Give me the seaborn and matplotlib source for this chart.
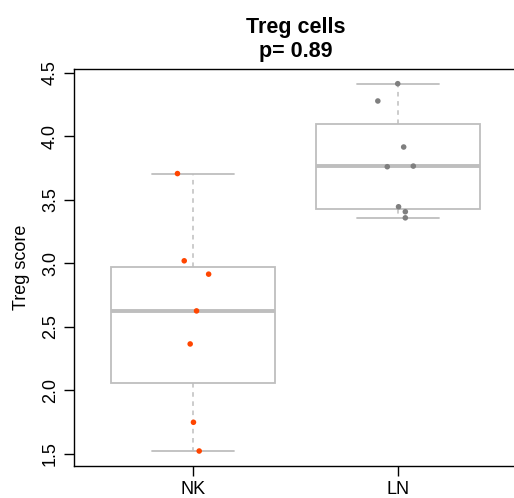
import numpy as np
import pandas as pd
import matplotlib
matplotlib.use("Agg")
import matplotlib.pyplot as plt
import seaborn as sns

# ---- data ----
groups = ["NK", "LN"]
nk_values = [3.706, 3.020, 2.915, 2.626, 2.366, 1.750, 1.524]
ln_values = [4.413, 4.277, 3.915, 3.760, 3.765, 3.445, 3.406, 3.358]
# horizontal jitter of each point (category units)
nk_jitter = [-0.077, -0.044, 0.075, 0.016, -0.015, 0.001, 0.029]
ln_jitter = [-0.003, -0.100, 0.026, -0.054, 0.073, 0.001, 0.034, 0.034]
y_ticks = [1.5, 2.0, 2.5, 3.0, 3.5, 4.0, 4.5]
title_text = "Treg cells\np= 0.89"
y_label = "Treg score"

point_colors = {"NK": "#FF4500", "LN": "#7F7F7F"}
box_color = "#BEBEBE"

sns.set_theme(style="white")
plt.rcParams["font.family"] = ["Liberation Sans", "DejaVu Sans"]
plt.rcParams.update({"text.color": "black", "axes.labelcolor": "black",
                     "xtick.color": "black", "ytick.color": "black"})


def tukey_stats(vals, label):
    x = np.sort(np.asarray(vals, dtype=float))
    n = len(x)
    n4 = np.floor((n + 3) / 2) / 2
    d = np.array([1, n4, (n + 1) / 2, n + 1 - n4, n]) - 1
    fn = 0.5 * (x[np.floor(d).astype(int)] + x[np.ceil(d).astype(int)])
    q1, med, q3 = fn[1], fn[2], fn[3]
    iqr = q3 - q1
    lo = x[x >= q1 - 1.5 * iqr].min()
    hi = x[x <= q3 + 1.5 * iqr].max()
    return dict(label=label, med=med, q1=q1, q3=q3, whislo=lo, whishi=hi,
                fliers=[])


df = pd.DataFrame({
    "group": ["NK"] * len(nk_values) + ["LN"] * len(ln_values),
    "value": nk_values + ln_values,
    "jitter": nk_jitter + ln_jitter,
})
df["xpos"] = df["group"].map({g: i for i, g in enumerate(groups)}) + df["jitter"]

fig = plt.figure(figsize=(5.14, 4.98), dpi=100)
ax = fig.add_axes([74.3 / 514, 32.3 / 498, 443 / 514, 396.7 / 498])

stats = [tukey_stats(nk_values, "NK"), tukey_stats(ln_values, "LN")]
ax.bxp(stats, positions=[0, 1], widths=0.8, capwidths=0.4, showfliers=False,
       patch_artist=True,
       boxprops=dict(facecolor="white", edgecolor=box_color, linewidth=1.3),
       medianprops=dict(color=box_color, linewidth=2.8, solid_capstyle="butt"),
       whiskerprops=dict(color=box_color, linewidth=1.1, linestyle=(0, (3, 3))),
       capprops=dict(color=box_color, linewidth=1.3))

sns.scatterplot(data=df, x="xpos", y="value", hue="group", palette=point_colors,
                s=16, linewidth=0, legend=False, ax=ax, zorder=5)

allv = np.array(nk_values + ln_values)
rng = allv.max() - allv.min()
ax.set_ylim(allv.min() - 0.04 * rng, allv.max() + 0.04 * rng)
ax.set_xlim(-0.58, 1.58)

ax.set_xticks([0, 1])
ax.set_xticklabels(groups, fontsize=13)
ax.set_yticks(y_ticks)
ax.set_yticklabels([f"{t:.1f}" for t in y_ticks], fontsize=13, rotation=90,
                   va="center")
ax.tick_params(axis="both", direction="out", length=7, width=1, color="black",
               labelcolor="black", bottom=True, left=True, pad=4)
ax.set_xlabel("")
ax.set_ylabel(y_label, fontsize=13, labelpad=9, color="black")
for sp in ax.spines.values():
    sp.set_visible(True)
    sp.set_color("black")
    sp.set_linewidth(1.0)

ax.set_title(title_text, fontsize=15.5, fontweight="bold", linespacing=1.15,
             pad=9, color="black")

fig.savefig("out.png", dpi=100)
